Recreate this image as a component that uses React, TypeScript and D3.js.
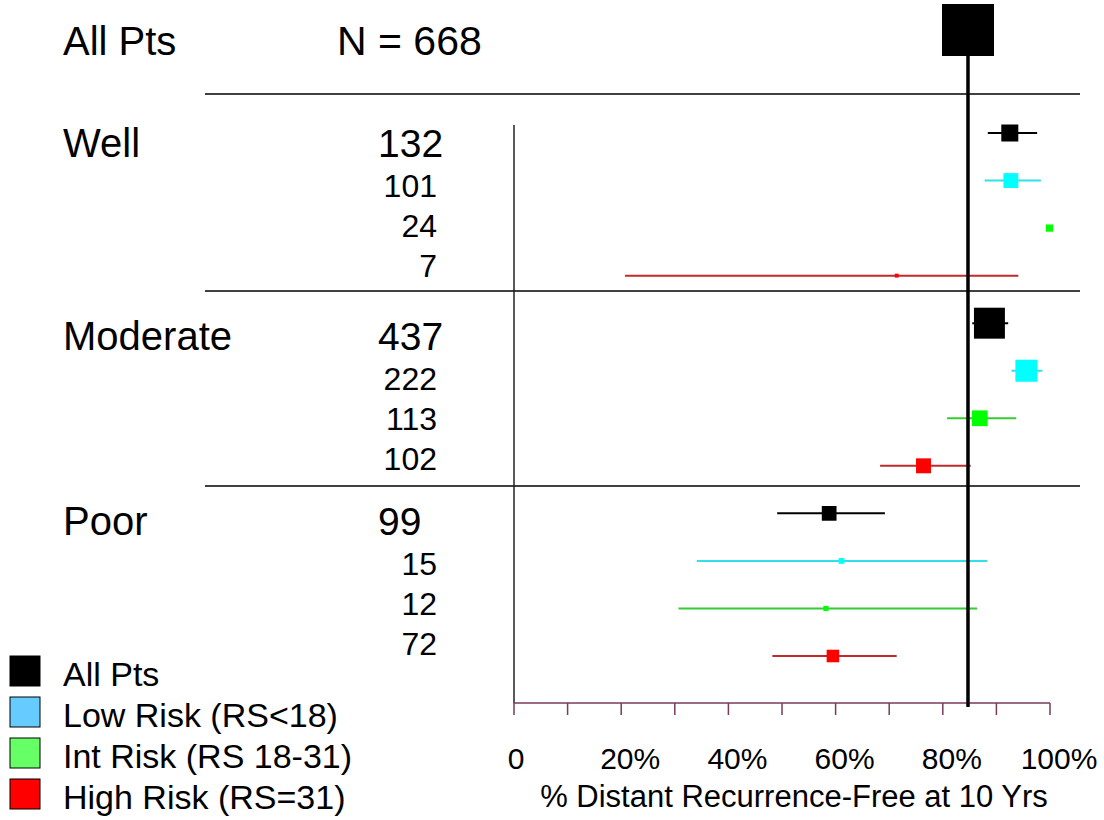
import React, { useEffect } from "react";
import * as d3 from "d3";

// ---------- DATA ----------
const groups = ["Well", "Moderate", "Poor"];
const groupN = [132, 437, 99];
const totalN = 668;
const overallEstimate = 84.7;

const seriesNames = ["All Pts", "Low Risk (RS<18)", "Int Risk (RS 18-31)", "High Risk (RS=31)"];

// per group rows: All, Low, Int, High
const rowN = [
  [132, 101, 24, 7],
  [437, 222, 113, 102],
  [99, 15, 12, 72],
];
const rowEstimate = [
  [92.5, 92.7, 99.9, 71.4],
  [88.7, 95.6, 86.9, 76.4],
  [58.8, 61.1, 58.2, 59.5],
];
const rowLower = [
  [88.4, 87.8, 99.7, 20.7],
  [85.5, 92.8, 80.8, 68.3],
  [49.1, 34.1, 30.7, 48.2],
];
const rowUpper = [
  [97.6, 98.3, 100, 94.1],
  [92.2, 98.6, 93.7, 85.2],
  [69.2, 88.3, 86.4, 71.4],
];

const tickValues = [0, 10, 20, 30, 40, 50, 60, 70, 80, 90, 100];
const tickLabels = ["0", "20%", "40%", "60%", "80%", "100%"];
const tickLabelValues = [0, 20, 40, 60, 80, 100];
const axisTitle = "% Distant Recurrence-Free at 10 Yrs";

// ---------- STYLES ----------
const markerFill = ["#000000", "#00ffff", "#00ff00", "#ff0000"];
const ciStroke = ["#000000", "#33e0e8", "#33cc33", "#c02a2a"];
const legendFill = ["#000000", "#66ccff", "#66ff66", "#ff0000"];
const FONT = "'Liberation Sans', Arial, Helvetica, sans-serif";

export default function App() {
  useEffect(() => {
    document.body.style.margin = "0";
  }, []);

  const W = 1104;
  const H = 820;
  const x = d3.scaleLinear().domain([0, 100]).range([514, 1050]);
  const rowCount = groups.length * 4;
  const y = d3
    .scalePoint<number>()
    .domain(d3.range(rowCount))
    .range([133, 656]);
  const size = (n: number) => Math.max(3, 1.48 * Math.sqrt(n));
  const axisY = 703;
  const axisColor = "#7a3a5a";

  const groupBaselines = [157, 350, 535];
  const separators = [94, 291, 486];

  const rows: any[] = [];
  groups.forEach((g, gi) => {
    for (let s = 0; s < 4; s++) {
      rows.push({
        gi,
        s,
        idx: gi * 4 + s,
        n: rowN[gi][s],
        est: rowEstimate[gi][s],
        lo: rowLower[gi][s],
        hi: rowUpper[gi][s],
      });
    }
  });

  const topSize = 52;

  return (
    <svg
      width={W}
      height={H}
      style={{ position: "absolute", left: 0, top: 0, background: "#fff" }}
      fontFamily={FONT}
    >
      <rect x={0} y={0} width={W} height={H} fill="#fff" />

      {/* top row */}
      <text x={63} y={55} fontSize={40}>
        All Pts
      </text>
      <text x={337} y={55} fontSize={41}>
        {`N = ${totalN}`}
      </text>
      <rect
        x={x(overallEstimate) - topSize / 2}
        y={30 - topSize / 2}
        width={topSize}
        height={topSize}
        fill="#000"
      />

      {/* separators */}
      {separators.map((sy, i) => (
        <line key={i} x1={205} x2={1080} y1={sy} y2={sy} stroke="#000" strokeWidth={1.5} />
      ))}

      {/* left vertical axis */}
      <line x1={x(0)} x2={x(0)} y1={125} y2={axisY} stroke="#222" strokeWidth={1.5} />

      {/* bottom axis */}
      <line x1={x(0)} x2={x(100)} y1={axisY} y2={axisY} stroke={axisColor} strokeWidth={1.5} />
      {tickValues.map((t) => (
        <line key={t} x1={x(t)} x2={x(t)} y1={axisY} y2={axisY + 12} stroke={axisColor} strokeWidth={1.5} />
      ))}
      {tickLabelValues.map((t, i) => (
        <text
          key={t}
          x={x(t) + (i === 0 ? 2 : 9)}
          y={769}
          fontSize={30}
          textAnchor="middle"
        >
          {tickLabels[i]}
        </text>
      ))}
      <text x={794} y={807} fontSize={31} textAnchor="middle">
        {axisTitle}
      </text>

      {/* group labels and N */}
      {groups.map((g, gi) => (
        <g key={g}>
          <text x={63} y={groupBaselines[gi]} fontSize={40}>
            {g}
          </text>
          <text x={378} y={groupBaselines[gi]} fontSize={39}>
            {groupN[gi]}
          </text>
          {[1, 2, 3].map((s) => (
            <text
              key={s}
              x={437}
              y={groupBaselines[gi] + 40 * s}
              fontSize={32}
              textAnchor="end"
            >
              {rowN[gi][s]}
            </text>
          ))}
        </g>
      ))}

      {/* CI lines and markers */}
      {rows.map((r) => {
        const cy = y(r.idx) as number;
        const sz = size(r.n);
        return (
          <g key={r.idx}>
            <line
              x1={x(r.lo)}
              x2={x(r.hi)}
              y1={cy}
              y2={cy}
              stroke={ciStroke[r.s]}
              strokeWidth={2}
            />
            <rect
              x={x(r.est) - sz / 2}
              y={cy - sz / 2}
              width={sz}
              height={sz}
              fill={markerFill[r.s]}
            />
          </g>
        );
      })}

      {/* overall reference line */}
      <line
        x1={x(overallEstimate)}
        x2={x(overallEstimate)}
        y1={30 + topSize / 2}
        y2={axisY + 4}
        stroke="#000"
        strokeWidth={3.5}
      />

      {/* legend */}
      {seriesNames.map((name, i) => (
        <g key={name}>
          <rect
            x={10}
            y={656 + 41 * i}
            width={30}
            height={30}
            fill={legendFill[i]}
            stroke="#000"
            strokeWidth={1}
          />
          <text x={63} y={686 + 41 * i} fontSize={34}>
            {name}
          </text>
        </g>
      ))}
    </svg>
  );
}
